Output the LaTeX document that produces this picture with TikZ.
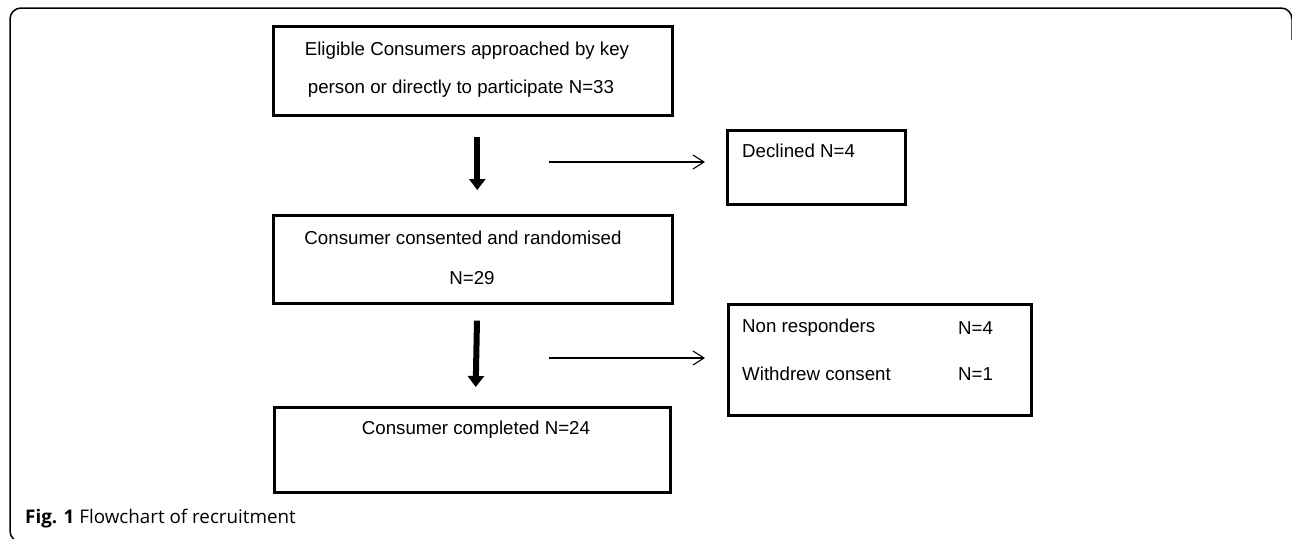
\documentclass[tikz,border=0pt]{standalone}
\usepackage{fontspec}
\setmainfont{Liberation Sans}
\newfontfamily\capfont{Open Sans}
\usetikzlibrary{arrows.meta,positioning}

\tikzset{
  box/.style={draw, line width=2.6pt, inner sep=0pt, anchor=north west},
  lbl/.style={inner sep=0pt, font=\fontsize{18.7}{22}\selectfont},
  bigarrow/.style={line width=6pt, -{Triangle[width=16pt,length=11pt]}},
  sidearrow/.style={line width=1.1pt, -{Straight Barb[width=14pt,length=11pt]}},
}

\begin{document}
\begin{tikzpicture}[x=1pt,y=1pt,yscale=-1]
\useasboundingbox (0,0) rectangle (1292,538);

%frame
\draw[line width=1.5pt, rounded corners=11] (40,542) -- (10,542) -- (10,8) -- (1292,8) -- (1292,40);

%boxes
\node[box, minimum width=399, minimum height=89] (eligible) at (272,25) {};
\node[box, minimum width=399, minimum height=88] (consented) at (272,214) {};
\node[box, minimum width=396, minimum height=85] (completed) at (273,406) {};
\node[box, minimum width=178, minimum height=74] (declined) at (726,129) {};
\node[box, minimum width=303, minimum height=111] (dropped) at (727,303) {};

%texts
\node[lbl] (eligibleA) at (467,51) {Eligible Consumers approached by key};
\node[lbl] (eligibleB) at (461,89) {person or directly to participate N=33};
\node[lbl] (consentedA) at (463,238) {Consumer consented and randomised};
\node[lbl] (consentedB) at (472,278) {N=29};
\node[lbl] (completedA) at (476,430) {Consumer completed N=24};
\node[lbl, anchor=west] (declinedA) at (742,151) {Declined N=4};
\node[lbl, anchor=west] (nonresp) at (742,328) {Non responders};
\node[lbl, anchor=west] (nonrespN) at (958,328) {N=4};
\node[lbl, anchor=west] (withdrew) at (742,374) {Withdrew consent};
\node[lbl, anchor=west] (withdrewN) at (958,374) {N=1};

%arrows
\draw[bigarrow, shorten <=20pt, shorten >=24pt] ([xshift=4.5]eligible.south) -- ([xshift=4.5]consented.north);
\draw[bigarrow, shorten <=16pt, shorten >=19pt] ([xshift=4.5]consented.south) -- ([xshift=3]completed.north);
\coordinate (splitA) at (549,162);
\coordinate (splitB) at (549,358);
\draw[sidearrow, shorten >=21pt] (splitA) -- (splitA -| declined.west);
\draw[sidearrow, shorten >=22pt] (splitB) -- (splitB -| dropped.west);

%caption
\node[anchor=west, inner sep=0pt, font=\capfont\fontsize{18.8}{22}\selectfont] (caption) at (25,519) {\textbf{Fig. 1} Flowchart of recruitment};
\end{tikzpicture}
\end{document}
